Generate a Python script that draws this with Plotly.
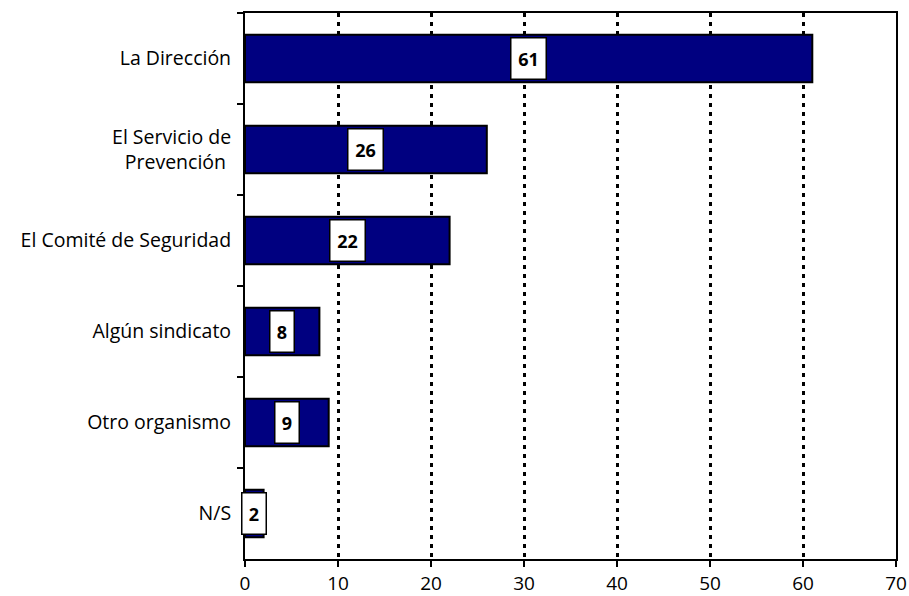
import plotly.graph_objects as go

categories = ["La Dirección", "El Servicio de<br>Prevención ", "El Comité de Seguridad",
              "Algún sindicato", "Otro organismo", "N/S"]
values = [61, 26, 22, 8, 9, 2]
x_ticks = [0, 10, 20, 30, 40, 50, 60, 70]

fig = go.Figure(go.Bar(
    y=categories, x=values, orientation="h",
    marker=dict(color="#000080", line=dict(color="black", width=2)),
    width=0.52, hoverinfo="skip",
))

# Value boxes centred on each bar
for cat, v in zip(categories, values):
    fig.add_annotation(
        x=v / 2, y=cat, text=f"<b>{v}</b>", showarrow=False,
        font=dict(family="Open Sans", size=18, color="black"),
        bgcolor="white", bordercolor="black", borderwidth=1.5,
        width=12 + 11 * len(str(v)), height=40, borderpad=0,
    )

fig.update_layout(
    width=909, height=596,
    margin=dict(l=245, r=13, t=13, b=37),
    plot_bgcolor="white", paper_bgcolor="white",
    showlegend=False,
    font=dict(family="Open Sans", size=18, color="black"),
    xaxis=dict(
        range=[0, 70], tickvals=x_ticks, ticks="outside", ticklen=6, tickwidth=2,
        tickcolor="black", showline=True, linecolor="black", linewidth=2, mirror=True,
        showgrid=True, gridcolor="black", gridwidth=2.5, griddash="4px,5px",
        zeroline=False, tickfont=dict(size=19), ticklabelstandoff=0, automargin=False,
    ),
    yaxis=dict(
        categoryorder="array", categoryarray=categories, autorange="reversed",
        tickson="boundaries", ticks="outside", ticklen=6, tickwidth=2, tickcolor="black",
        showline=True, linecolor="black", linewidth=2, mirror=True,
        showgrid=False, zeroline=False, tickfont=dict(size=19.5), ticklabelstandoff=8,
        automargin=False,
    ),
)

fig.write_html("out.html")
